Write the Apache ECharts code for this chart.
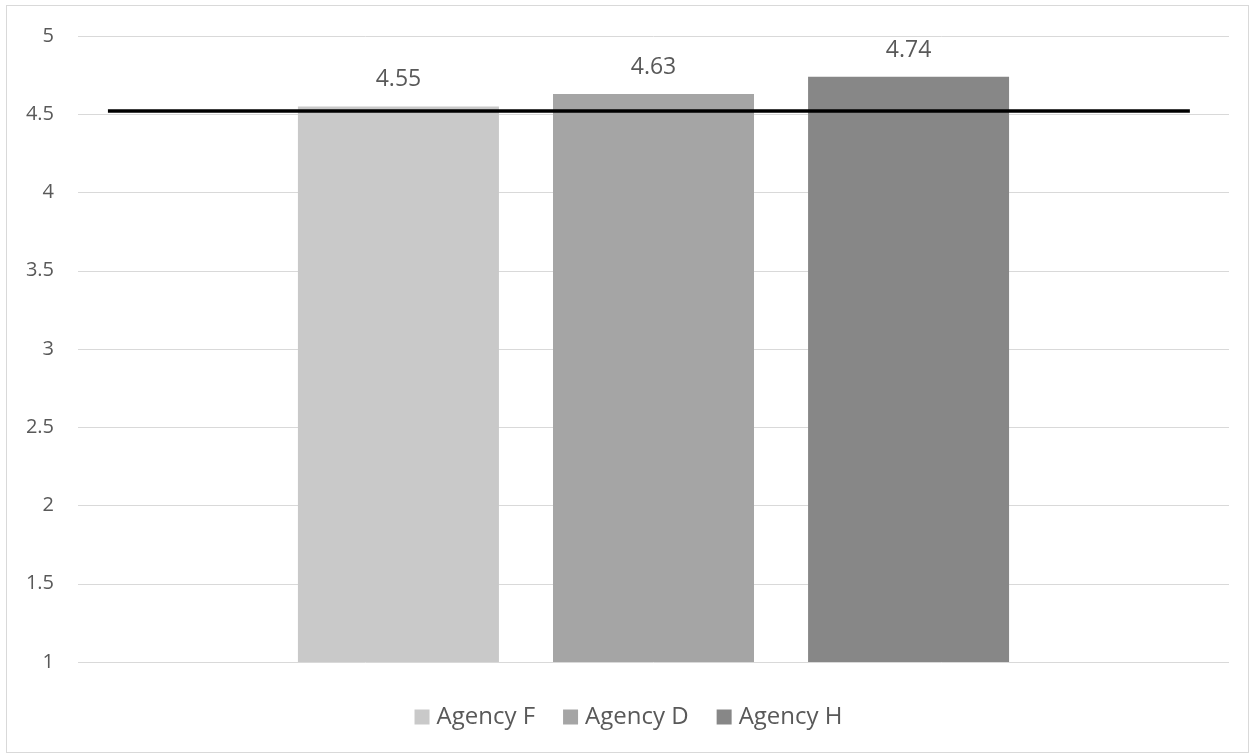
<!DOCTYPE html>
<html>
<head>
<meta charset="utf-8">
<script src="https://cdn.jsdelivr.net/npm/echarts@6/dist/echarts.min.js"></script>
<style>
  html, body { margin: 0; padding: 0; background: #fff; }
  #frame { position: absolute; left: 6px; top: 5px; width: 1241px; height: 746px; border: 1.5px solid #d9d9d9; box-sizing: content-box; }
  #chart { position: absolute; left: -6px; top: -5px; width: 1255px; height: 755px; }
</style>
</head>
<body>
<div id="frame"><div id="chart"></div></div>
<script>
// Mean scores per agency, with the overall benchmark drawn as a horizontal rule
const categories = [''];
const agencies = ['Agency F', 'Agency D', 'Agency H'];
const scores = [4.55, 4.63, 4.74];
const colors = ['#c9c9c9', '#a5a5a5', '#878787'];
const benchmark = 4.52;
const benchmarkSpan = [0.026, 0.966]; // fraction of the plot width covered by the rule
const yTicks = { min: 1, max: 5, interval: 0.5 };

const FONT = 'Open Sans, Noto Sans, sans-serif';
const chart = echarts.init(document.getElementById('chart'));

const barSeries = agencies.map((name, i) => ({
  name: name,
  type: 'bar',
  xAxisIndex: 0,
  data: [scores[i]],
  barWidth: 201,
  barGap: '26.9%',
  itemStyle: { color: colors[i] },
  label: {
    show: true,
    position: 'top',
    distance: 15,
    color: '#595959',
    fontSize: 23,
    fontFamily: FONT
  },
  z: 2
}));

const ruleSeries = {
  name: 'benchmark',
  type: 'line',
  xAxisIndex: 1,
  data: [[benchmarkSpan[0], benchmark], [benchmarkSpan[1], benchmark]],
  symbol: 'none',
  lineStyle: { color: '#000', width: 3.5 },
  silent: true,
  z: 5
};

chart.setOption({
  animation: false,
  grid: { left: 77, right: 27, top: 35, bottom: 94 },
  legend: {
    data: agencies,
    bottom: 22,
    left: 'center',
    itemWidth: 15,
    itemHeight: 15,
    itemGap: 28,
    icon: 'rect',
    textStyle: { color: '#595959', fontSize: 24, fontFamily: FONT, padding: [0, 0, 0, 2] }
  },
  xAxis: [
    {
      type: 'category',
      data: categories,
      axisLine: { show: false },
      axisTick: { show: false },
      axisLabel: { show: false }
    },
    {
      type: 'value',
      min: 0,
      max: 1,
      show: false
    }
  ],
  yAxis: {
    type: 'value',
    min: yTicks.min,
    max: yTicks.max,
    interval: yTicks.interval,
    axisLine: { show: false },
    axisTick: { show: false },
    axisLabel: { color: '#595959', fontSize: 20, margin: 24, fontFamily: FONT },
    splitLine: { lineStyle: { color: '#d9d9d9', width: 1 } }
  },
  series: barSeries.concat([ruleSeries])
});
</script>
</body>
</html>
